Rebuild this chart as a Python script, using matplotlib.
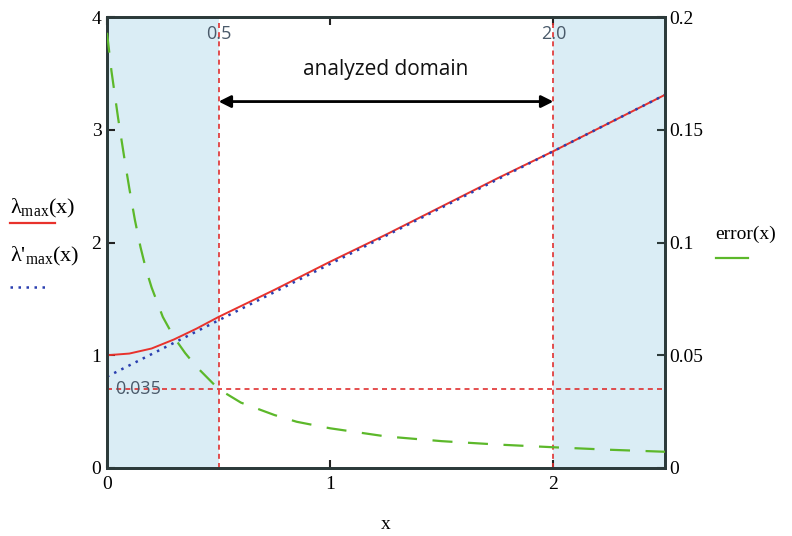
import matplotlib
matplotlib.use("Agg")
import matplotlib.pyplot as plt
from matplotlib.lines import Line2D

plt.rcParams["mathtext.fontset"] = "custom"
plt.rcParams["mathtext.rm"] = "Liberation Serif"

# values
x_lam = [0.0, 0.1, 0.2, 0.3, 0.4, 0.5, 0.75, 1.0, 1.25, 1.5, 1.75, 2.0, 2.25, 2.5]
lam_max = [1.00, 1.015, 1.06, 1.14, 1.235, 1.34, 1.58, 1.83, 2.07, 2.32, 2.57, 2.81, 3.06, 3.31]
x_lin = [0.0, 0.5, 1.0, 1.5, 2.0, 2.5]
lam_lin = [0.81, 1.31, 1.81, 2.31, 2.81, 3.31]
x_err = [0.0, 0.02, 0.05, 0.08, 0.1, 0.125, 0.15, 0.175, 0.2, 0.25, 0.3, 0.35, 0.4,
         0.45, 0.5, 0.6, 0.75, 0.85, 1.0, 1.25, 1.5, 1.75, 2.0, 2.25, 2.5]
err = [0.193, 0.176, 0.155, 0.136, 0.124, 0.110, 0.098, 0.088, 0.080, 0.067, 0.058,
       0.051, 0.045, 0.040, 0.035, 0.029, 0.0235, 0.0205, 0.0176, 0.0140, 0.0119,
       0.0104, 0.0092, 0.0081, 0.0072]
domain = [0.5, 2.0]
err_level = 0.035

SERIF = "Liberation Serif"
SANS = "Open Sans"
FRAME = "#2c3a3a"
SHADE = "#daedf5"
LABEL_GREY = "#4a5a6a"

fig = plt.figure(figsize=(7.92, 5.36), dpi=100)
ax = fig.add_axes([107 / 792, 1 - 468 / 536, 558 / 792, 451 / 536])
ax.set_xlim(0, 2.5)
ax.set_ylim(0, 4)
ax.axvspan(0, domain[0], color=SHADE, lw=0, zorder=0)
ax.axvspan(domain[1], 2.5, color=SHADE, lw=0, zorder=0)

ax.plot(x_lam, lam_max, color="#e8322c", lw=1.4, zorder=3)
ax.plot(x_lin, lam_lin, color="#2a3fb0", lw=1.8, ls=(0, (1, 2.2)), zorder=4)

for xv in domain:
    ax.axvline(xv, color="#e03030", lw=1.2, ls=(0, (3, 2.5)), zorder=2)
ax.text(domain[0], 3.93, "0.5", family=SANS, fontsize=13, color=LABEL_GREY,
        ha="center", va="top")
ax.text(domain[1], 3.93, "2.0", family=SANS, fontsize=13, color=LABEL_GREY,
        ha="center", va="top")

ax.annotate("", xy=(domain[0], 3.25), xytext=(domain[1], 3.25),
            arrowprops=dict(arrowstyle="<|-|>", color="black", lw=2,
                            mutation_scale=18, shrinkA=0, shrinkB=0))
ax.text(sum(domain) / 2, 3.53, "analyzed domain", family=SANS, fontsize=15,
        ha="center", va="center", color="#111111")

ax.set_xticks([0, 1, 2])
ax.set_yticks([0, 1, 2, 3, 4])
ax.set_xticklabels(["0", "1", "2"], family=SERIF, fontsize=14)
ax.set_yticklabels(["0", "1", "2", "3", "4"], family=SERIF, fontsize=14)
ax.tick_params(axis="both", direction="in", length=6, width=1.5, color="#222222",
               pad=4, top=True)
ax.tick_params(axis="x", pad=6)
ax.set_xlabel("x", family=SERIF, fontsize=14, labelpad=16)
for sp in ax.spines.values():
    sp.set_color(FRAME)
    sp.set_linewidth(2)

ax2 = ax.twinx()
ax2.set_ylim(0, 0.2)
ax2.plot(x_err, err, color="#5cb82a", lw=1.6, ls=(0, (9, 7)), zorder=3)
ax2.axhline(err_level, color="#e03030", lw=1.2, ls=(0, (3, 2.5)), zorder=2)
ax2.text(0.035, err_level, "0.035", family=SANS, fontsize=13, color=LABEL_GREY,
         ha="left", va="center")
ax2.set_yticks([0, 0.05, 0.1, 0.15, 0.2])
ax2.set_yticklabels(["0", "0.05", "0.1", "0.15", "0.2"], family=SERIF, fontsize=14)
ax2.tick_params(axis="y", direction="in", length=6, width=1.5, color=FRAME, pad=3)
for sp in ax2.spines.values():
    sp.set_color(FRAME)
    sp.set_linewidth(2)

# legend entries, Mathcad style
fig.text(10 / 792, 1 - 208 / 536, r"λ$_{\mathrm{max}}$(x)", family=SERIF,
         fontsize=16, va="center", ha="left")
fig.add_artist(Line2D([10 / 792, 55 / 792], [1 - 223 / 536] * 2, color="#e8322c",
                      lw=1.6))
fig.text(10 / 792, 1 - 256 / 536, r"λ$'_{\mathrm{max}}$(x)", family=SERIF,
         fontsize=16, va="center", ha="left")
fig.add_artist(Line2D([10 / 792, 48 / 792], [1 - 287 / 536] * 2, color="#2a3fb0",
                      lw=1.8, ls=(0, (1, 2.2))))
fig.text(715 / 792, 1 - 234 / 536, "error(x)", family=SERIF, fontsize=14,
         va="center", ha="left")
fig.add_artist(Line2D([716 / 792, 748 / 792], [1 - 258 / 536] * 2, color="#5cb82a",
                      lw=1.6))

fig.savefig("out.png", dpi=100)
